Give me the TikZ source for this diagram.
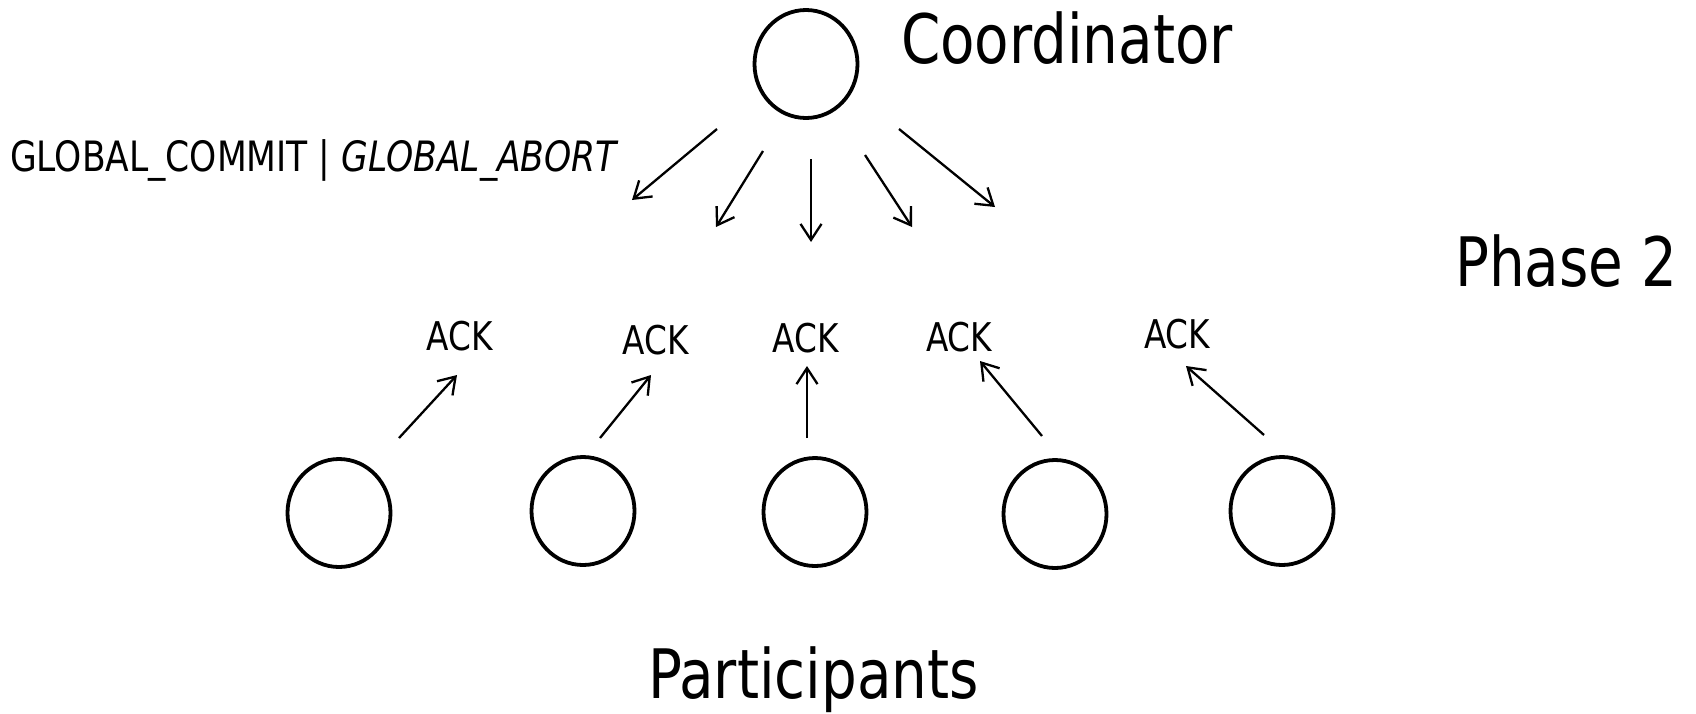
\documentclass[tikz,border=0pt]{standalone}
\usepackage{fontspec}
\setmainfont{DejaVu Sans Condensed}[ItalicFont={DejaVu Sans Condensed Oblique}]
\usetikzlibrary{arrows.meta,shapes.geometric}
\newcommand\vstretchtxt[1]{\scalebox{1.01}[1.1]{#1}}
\tikzset{
  proc/.style={ellipse, draw, line width=3.8pt, minimum width=103pt, minimum height=108pt, inner sep=0pt},
  msg/.style={-{Straight Barb[length=16pt,width=21pt,line width=2.3pt]}, line width=2.3pt},
  biglbl/.style={font=\fontsize{62}{70}\selectfont, inner sep=0pt, anchor=base west},
  msglbl/.style={font=\fontsize{38}{44}\selectfont, inner sep=0pt, anchor=base west},
  acklbl/.style={font=\fontsize{36}{42}\selectfont, inner sep=0pt},
}
\begin{document}
\begin{tikzpicture}[x=1pt,y=-1pt]
\useasboundingbox (0,0) rectangle (1696,713);

% nodes
\node[proc] (coord) at (806,64) {};
\node[proc] (p1) at (339,513) {};
\node[proc] (p2) at (583,511) {};
\node[proc] (p3) at (815,512) {};
\node[proc] (p4) at (1055,514) {};
\node[proc] (p5) at (1282,511) {};

% labels
\node[biglbl] (coordlbl) at (901,63) {\vstretchtxt{Coordinator}};
\node[biglbl] (phase) at (1455,286) {\vstretchtxt{Phase 2}};
\node[biglbl] (partlbl) at (648,698) {\vstretchtxt{Participants}};
\node[msglbl] (gmsg) at (10,171) {\vstretchtxt{GLOBAL\_COMMIT | \textit{GLOBAL\_ABORT}}};
\node[acklbl] (ack1) at (460,336) {\vstretchtxt{ACK}};
\node[acklbl] (ack2) at (656,340) {\vstretchtxt{ACK}};
\node[acklbl] (ack3) at (806,338) {\vstretchtxt{ACK}};
\node[acklbl] (ack4) at (959,337) {\vstretchtxt{ACK}};
\node[acklbl] (ack5) at (1177,334) {\vstretchtxt{ACK}};

% downward arrow ends
\coordinate (d1s) at (717,129); \coordinate (d1e) at (632,200);
\coordinate (d2s) at (763,151); \coordinate (d2e) at (716,227);
\coordinate (d3s) at (811,159); \coordinate (d3e) at (811,242);
\coordinate (d4s) at (865,155); \coordinate (d4e) at (912,227);
\coordinate (d5s) at (899,129); \coordinate (d5e) at (995,207);
% upward arrow ends
\coordinate (u1s) at (399,438); \coordinate (u1e) at (457,375);
\coordinate (u2s) at (600,438); \coordinate (u2e) at (651,375);
\coordinate (u3s) at (807,438); \coordinate (u3e) at (807,366);
\coordinate (u4s) at (1042,436); \coordinate (u4e) at (980,361);
\coordinate (u5s) at (1264,435); \coordinate (u5e) at (1186,366);

\foreach \i in {1,...,5} {
  \draw[msg] (d\i s) -- (d\i e);
  \draw[msg] (u\i s) -- (u\i e);
}
\end{tikzpicture}
\end{document}
